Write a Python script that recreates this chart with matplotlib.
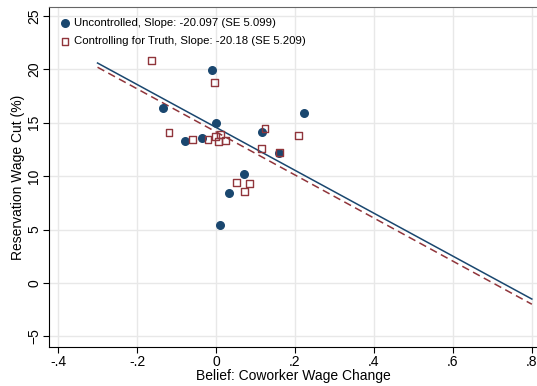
# Scatter of reservation wage cut vs belief about coworker wage change
# with two fitted lines (uncontrolled vs controlling for truth)

import matplotlib.pyplot as plt
import numpy as np

plt.rcParams['font.family'] = ['Liberation Sans', 'DejaVu Sans']

# 1. Data
unc_x = [-0.011, -0.135, -0.001, 0.223, -0.078, -0.036, 0.117, 0.160, 0.072, 0.034, 0.009]
unc_y = [19.97, 16.37, 15.00, 15.96, 13.34, 13.59, 14.18, 12.16, 10.22, 8.41, 5.44]

ctl_x = [-0.164, -0.003, -0.119, -0.060, -0.020, -0.001, 0.012, 0.006, 0.024,
         0.124, 0.116, 0.161, 0.208, 0.051, 0.084, 0.073]
ctl_y = [20.87, 18.77, 14.12, 13.43, 13.47, 13.71, 13.90, 13.22, 13.37,
         14.46, 12.62, 12.21, 13.78, 9.44, 9.34, 8.56]

unc_slope, unc_icpt = -20.097, 14.57
ctl_slope, ctl_icpt = -20.18, 14.15
fit_range = [-0.3, 0.8]

xticks = [-0.4, -0.2, 0, 0.2, 0.4, 0.6, 0.8]
xtick_labels = ['-.4', '-.2', '0', '.2', '.4', '.6', '.8']
yticks = [-5, 0, 5, 10, 15, 20, 25]

navy = '#1a476f'
maroon = '#90353b'

# 2. Figure
fig = plt.figure(figsize=(5.37, 3.86), dpi=100)
ax = fig.add_axes([0.0912, 0.101, 0.9088, 0.8796])

ax.grid(True, color='#e8e8e8', linewidth=1.0)
ax.set_axisbelow(True)

ax.scatter(unc_x, unc_y, s=30, color=navy, zorder=3,
           label='Uncontrolled, Slope: -20.097 (SE 5.099)')
ax.scatter(ctl_x, ctl_y, s=24, marker='s', facecolors='none', edgecolors=maroon,
           linewidths=1.0, zorder=4,
           label='Controlling for Truth, Slope: -20.18 (SE 5.209)')

xs = np.array(fit_range)
ax.plot(xs, unc_icpt + unc_slope * xs, color=navy, linewidth=1.1, zorder=2)
ax.plot(xs, ctl_icpt + ctl_slope * xs, color=maroon, linewidth=1.1,
        linestyle=(0, (5, 3)), zorder=2)

# 3. Axes
ax.set_xlim(-0.423, 0.813)
ax.set_ylim(-6.0, 25.8)
ax.set_xticks(xticks)
ax.set_xticklabels(xtick_labels)
ax.set_yticks(yticks)
ax.tick_params(axis='both', labelsize=10, length=4, width=0.8, color='black', pad=1.5)
plt.setp(ax.get_yticklabels(), rotation=90, va='center')

ax.set_xlabel('Belief: Coworker Wage Change', fontsize=10, labelpad=0)
ax.set_ylabel('Reservation Wage Cut (%)', fontsize=10, labelpad=2)

ax.spines['left'].set_color('black')
ax.spines['bottom'].set_color('black')
ax.spines['top'].set_color('#666666')
ax.spines['right'].set_visible(False)

ax.legend(loc='upper left', fontsize=8.2, frameon=False, handletextpad=0.3,
          borderaxespad=0.6, labelspacing=0.75, handlelength=1.0,
          borderpad=0.3, scatterpoints=1)

plt.savefig('out.png', dpi=100)
